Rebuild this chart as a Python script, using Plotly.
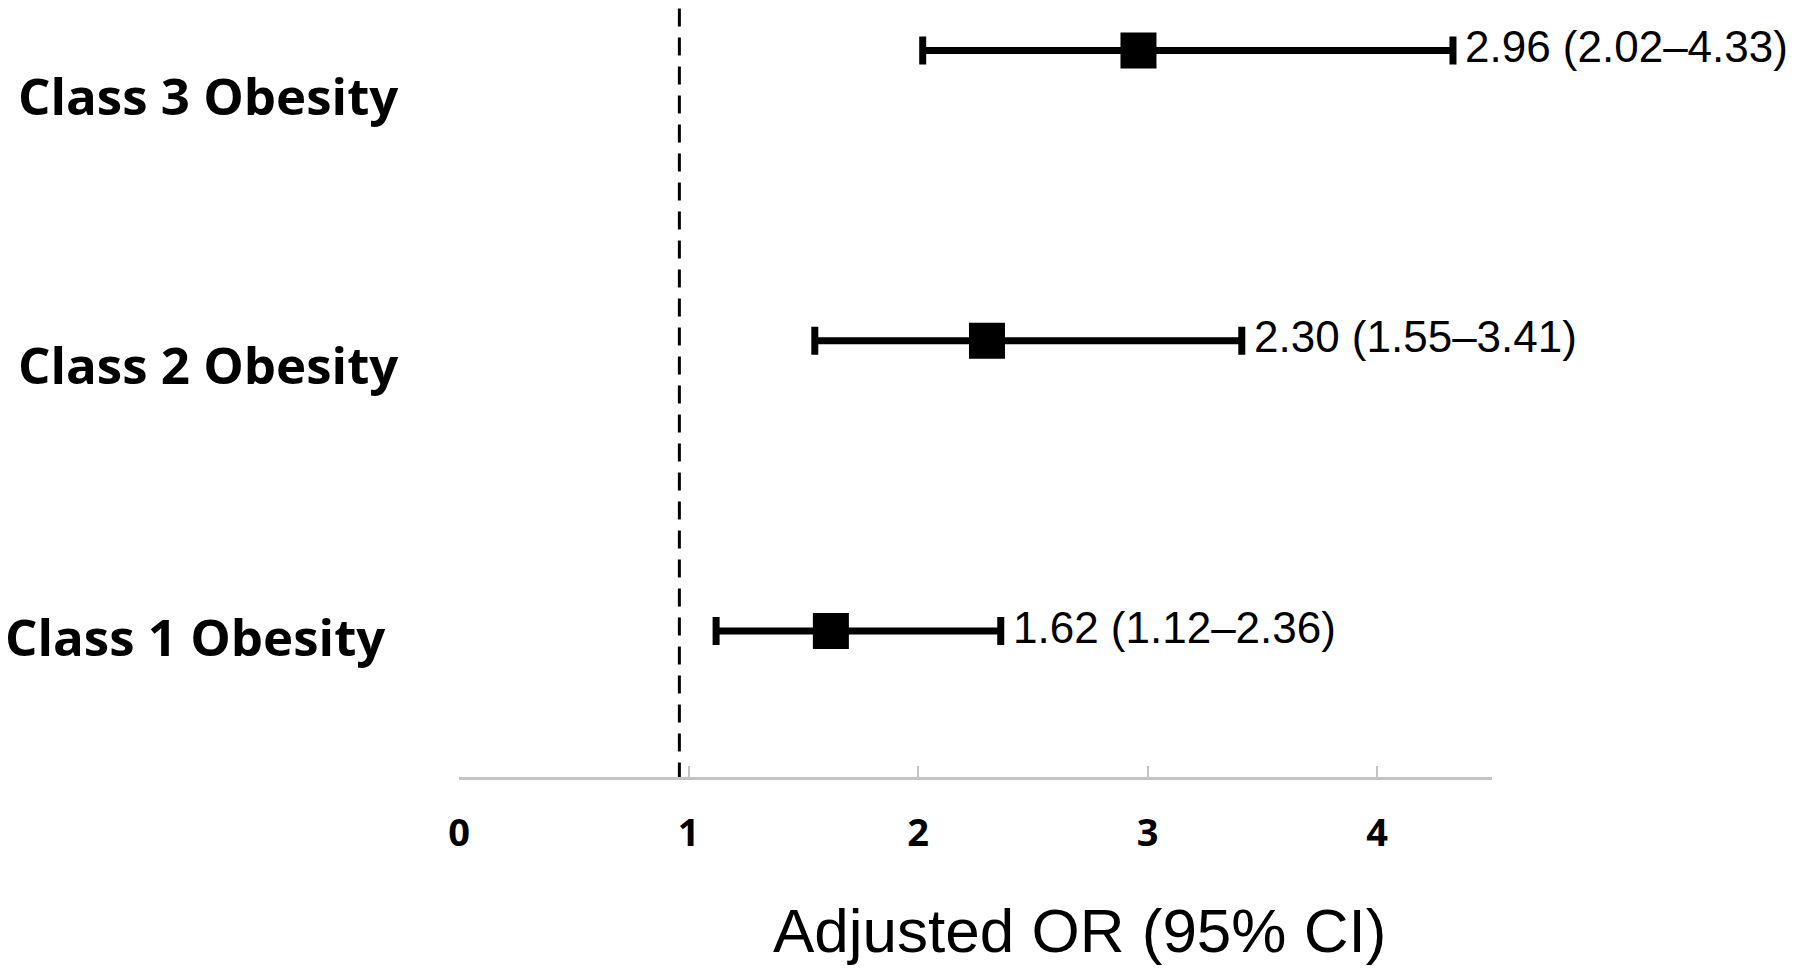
import plotly.graph_objects as go

# ---- data ----
categories = ["Class 1 Obesity", "Class 2 Obesity", "Class 3 Obesity"]
odds_ratio = [1.62, 2.30, 2.96]
ci_low = [1.12, 1.55, 2.02]
ci_high = [2.36, 3.41, 4.33]
row_pos = [1, 2, 3]
x_ticks = [0, 1, 2, 3, 4]
null_line = 0.96
x_title = "Adjusted OR (95% CI)"

# ---- layout constants ----
label_paper_y = [0.181, 0.531, 0.878]
label_paper_x = [-0.4414, -0.4289, -0.4289]

err_plus = [h - o for h, o in zip(ci_high, odds_ratio)]
err_minus = [o - l for o, l in zip(odds_ratio, ci_low)]
value_text = [f"{o:.2f} ({l:.2f}\u2013{h:.2f})" for o, l, h in zip(odds_ratio, ci_low, ci_high)]

fig = go.Figure()

# reference line
fig.add_trace(go.Scatter(
    x=[null_line, null_line], y=[0.485, 3.18], mode="lines",
    line=dict(color="black", width=3, dash="18px,11px"),
    hoverinfo="skip", showlegend=False, cliponaxis=False,
))

fig.add_trace(go.Scatter(
    x=odds_ratio, y=row_pos, mode="markers",
    marker=dict(symbol="square", size=36, color="black", line=dict(width=0)),
    error_x=dict(type="data", symmetric=False, array=err_plus, arrayminus=err_minus,
                 color="black", thickness=7, width=14),
    showlegend=False, cliponaxis=False,
))

for h, r, t in zip(ci_high, row_pos, value_text):
    fig.add_annotation(x=h, y=r, xref="x", yref="y", text=t, showarrow=False,
                       xanchor="left", yanchor="middle", xshift=10, yshift=4,
                       font=dict(family="Liberation Sans, Arial", size=44, color="black"))

for c, px, py in zip(categories, label_paper_x, label_paper_y):
    fig.add_annotation(x=px, y=py, xref="paper", yref="paper", text=c, showarrow=False,
                       xanchor="left", yanchor="middle",
                       font=dict(family="Open Sans", size=51, color="black", weight="bold"))

fig.add_annotation(x=0.601, y=-0.198, xref="paper", yref="paper", text=x_title,
                   showarrow=False, xanchor="center", yanchor="middle",
                   font=dict(family="Liberation Sans, Arial", size=62, color="black"))

fig.update_layout(
    width=1800, height=972,
    margin=dict(l=459, r=308, t=0, b=195),
    paper_bgcolor="white", plot_bgcolor="white",
    xaxis=dict(range=[0, 4.5], tickvals=x_ticks, ticktext=[str(v) for v in x_ticks],
               showgrid=False, zeroline=False, showline=True, linecolor="#c4c4c4", linewidth=3,
               ticks="inside", ticklen=11, tickwidth=2, tickcolor="#c4c4c4",
               ticklabelstandoff=20,
               tickfont=dict(family="Open Sans", size=38, color="black", weight="bold")),
    yaxis=dict(range=[0.497, 3.174], showgrid=False, zeroline=False, showline=False,
               showticklabels=False, ticks=""),
)

fig.write_html("out.html")
